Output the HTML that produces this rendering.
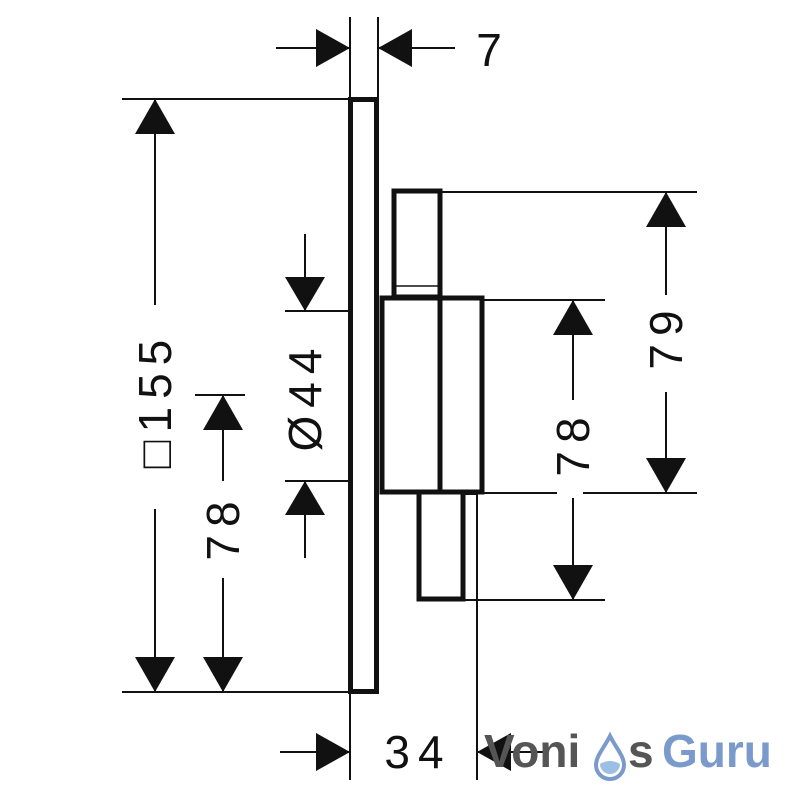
<!DOCTYPE html>
<html><head><style>html,body{margin:0;padding:0;background:#fff}svg{display:block}</style></head>
<body>
<svg width="800" height="800" viewBox="0 0 800 800" xmlns="http://www.w3.org/2000/svg">
<g stroke="#111" fill="none" stroke-width="2">
<!-- extension lines -->
<line x1="350" y1="17" x2="350" y2="98"/>
<line x1="378" y1="17" x2="378" y2="98"/>
<line x1="122" y1="99" x2="350" y2="99"/>
<line x1="122" y1="692" x2="350" y2="692"/>
<line x1="195" y1="395" x2="245" y2="395"/>
<line x1="285" y1="311" x2="350" y2="311"/>
<line x1="285" y1="481" x2="350" y2="481"/>
<line x1="440" y1="192" x2="697" y2="192"/>
<line x1="483" y1="300" x2="605" y2="300"/>
<line x1="483" y1="493" x2="557" y2="493"/>
<line x1="583" y1="493" x2="697" y2="493"/>
<line x1="463" y1="600" x2="605" y2="600"/>
<line x1="350" y1="693" x2="350" y2="780"/>
<line x1="477" y1="490" x2="477" y2="780"/>
<!-- dim lines -->
<line x1="276" y1="48" x2="350" y2="48"/>
<line x1="378" y1="48" x2="455" y2="48"/>
<line x1="155" y1="99" x2="155" y2="305"/>
<line x1="155" y1="509" x2="155" y2="692"/>
<line x1="223" y1="395" x2="223" y2="481"/>
<line x1="223" y1="578" x2="223" y2="692"/>
<line x1="305" y1="234" x2="305" y2="311"/>
<line x1="305" y1="481" x2="305" y2="558"/>
<line x1="666" y1="192" x2="666" y2="295"/>
<line x1="666" y1="392" x2="666" y2="493"/>
<line x1="573" y1="300" x2="573" y2="400"/>
<line x1="573" y1="498" x2="573" y2="600"/>
<line x1="280" y1="752" x2="350" y2="752"/>
<line x1="477" y1="752" x2="548" y2="752"/>
</g>
<!-- arrowheads -->
<g fill="#111">
<polygon points="350,48 316,29 316,67"/>
<polygon points="378,48 412,29 412,67"/>
<polygon points="155,99 135,134 175,134"/>
<polygon points="155,692 135,657 175,657"/>
<polygon points="223,395 203,430 243,430"/>
<polygon points="223,692 203,657 243,657"/>
<polygon points="305,311 285,277 325,277"/>
<polygon points="305,481 285,515 325,515"/>
<polygon points="666,192 646,227 686,227"/>
<polygon points="666,493 646,458 686,458"/>
<polygon points="573,300 553,335 593,335"/>
<polygon points="573,600 553,565 593,565"/>
<polygon points="350,752 316,733 316,771"/>
<polygon points="477,752 511,733 511,771"/>
</g>
<!-- body -->
<g stroke="#111" fill="none" stroke-width="5">
<rect x="350.5" y="99.5" width="26" height="592"/>
<rect x="394" y="191" width="46" height="106"/>
<rect x="382" y="298" width="100" height="194"/>
<line x1="440" y1="297" x2="440" y2="492"/>
<rect x="419" y="492" width="44" height="107"/>
</g>
<line x1="463" y1="494" x2="477" y2="494" stroke="#111" stroke-width="2"/>
<line x1="440" y1="286" x2="394" y2="286" stroke="#111" stroke-width="1.5"/>
<!-- labels -->
<g font-family="Liberation Sans, sans-serif" font-size="46" fill="#111" text-anchor="middle" letter-spacing="8">
<text x="489" y="66" letter-spacing="0">7</text>
<text transform="translate(171,400) rotate(-90)">□155</text>
<text transform="translate(239,527) rotate(-90)">78</text>
<text transform="translate(321,396) rotate(-90)">Ø44</text>
<text transform="translate(682,336) rotate(-90)">79</text>
<text transform="translate(589,443) rotate(-90)">78</text>
<text x="418" y="768">34</text>
</g>
<!-- watermark -->
<g font-family="Liberation Sans, sans-serif" font-weight="bold" font-size="46">
<text x="484" y="767" fill="#555">Voni</text>
<path d="M610,736 C604,748 596,756 596,765 A14,14 0 0 0 624,765 C624,756 616,748 610,736 Z" fill="#fff" stroke="#7b9acc" stroke-width="4"/>
<path d="M600,764 Q610,758 620,764 A10,10 0 0 1 600,764 Z" fill="#9cc0e4"/>
<text x="628" y="767" fill="#555">s</text>
<text x="662" y="767" fill="#7b9acc">Guru</text>
</g>
</svg>
</body></html>
